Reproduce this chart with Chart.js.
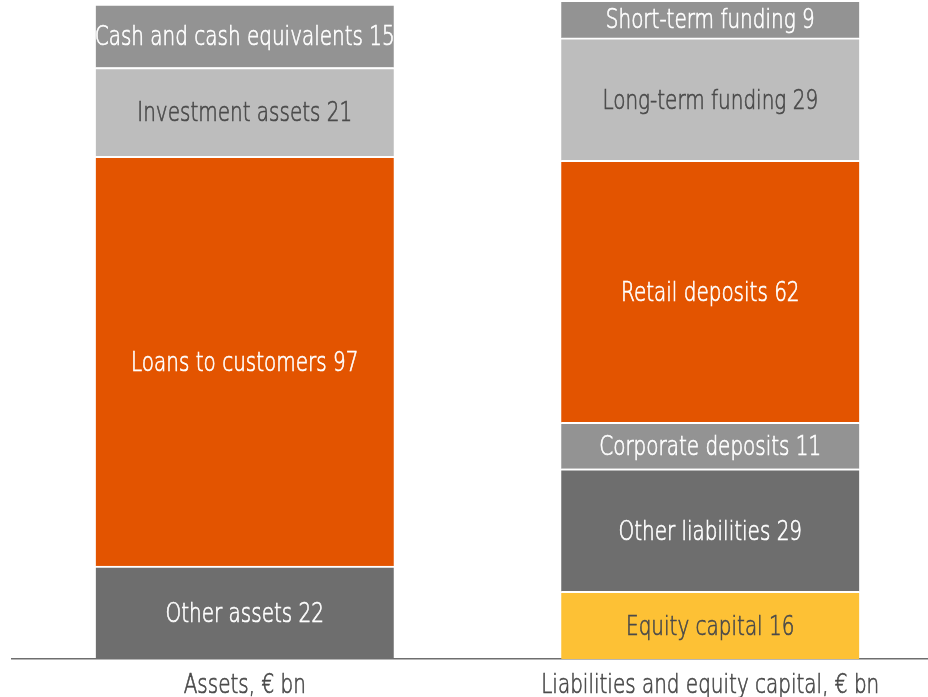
<!DOCTYPE html>
<html>
<head>
<meta charset="utf-8">
<script src="https://cdn.jsdelivr.net/npm/chart.js@4"></script>
<style>
  html, body { margin: 0; padding: 0; background: #ffffff; overflow: hidden; }
  #wrap { width: 928px; height: 697px; overflow: hidden; position: relative; }
  canvas { display: block; }
</style>
</head>
<body>
<div id="wrap"><canvas id="chart" width="943" height="697"></canvas></div>
<script>
// Balance sheet structure, € bn
const categories = ['Assets, € bn', 'Liabilities and equity capital, € bn'];

// Assets, stacked from the bottom up
const assetNames  = ['Other assets', 'Loans to customers', 'Investment assets', 'Cash and cash equivalents'];
const assetValues = [22, 97, 21, 15];

// Liabilities and equity capital, stacked from the bottom up
const liabilityNames  = ['Equity capital', 'Other liabilities', 'Corporate deposits', 'Retail deposits', 'Long-term funding', 'Short-term funding'];
const liabilityValues = [16, 29, 11, 62, 29, 9];

const assetColors     = ['#6e6e6e', '#e35400', '#bdbdbd', '#939393'];
const assetText       = ['#ffffff', '#ffffff', '#4a4a4a', '#ffffff'];
const liabilityColors = ['#fdc135', '#6e6e6e', '#939393', '#e35400', '#bdbdbd', '#939393'];
const liabilityText   = ['#4a4a4a', '#ffffff', '#ffffff', '#ffffff', '#4a4a4a', '#ffffff'];

const FONT = '200 27px "DejaVu Sans", sans-serif';
const SQUEEZE = 0.74;   // horizontal narrowing of the label face

function segment(name, value, idx, color, textColor) {
  const data = [null, null];
  data[idx] = value;
  return {
    label: name,
    data: data,
    backgroundColor: color,
    borderColor: '#ffffff',
    borderWidth: { top: 2, right: 0, bottom: 0, left: 0 },
    borderSkipped: false,
    barThickness: 298,
    stack: 'bs',
    textColor: textColor
  };
}

const datasets = [];
assetNames.forEach((n, i) => datasets.push(segment(n, assetValues[i], 0, assetColors[i], assetText[i])));
liabilityNames.forEach((n, i) => datasets.push(segment(n, liabilityValues[i], 1, liabilityColors[i], liabilityText[i])));

// Narrow, slightly thickened light text
function narrowText(ctx, text, x, y, color) {
  ctx.save();
  ctx.translate(x, y);
  ctx.scale(SQUEEZE, 1);
  ctx.fillStyle = color;
  ctx.strokeStyle = color;
  ctx.lineWidth = 0.7;
  ctx.fillText(text, 0, 0);
  ctx.strokeText(text, 0, 0);
  ctx.restore();
}

// Writes "name value" in the middle of each stacked segment, and the category names under the axis
const segmentLabels = {
  id: 'segmentLabels',
  afterDatasetsDraw(chart) {
    const ctx = chart.ctx;
    ctx.save();
    ctx.font = FONT;
    ctx.textAlign = 'center';
    ctx.textBaseline = 'alphabetic';
    chart.data.datasets.forEach((ds, di) => {
      const meta = chart.getDatasetMeta(di);
      meta.data.forEach((el, i) => {
        const v = ds.data[i];
        if (v === null || v === undefined) return;
        narrowText(ctx, ds.label + ' ' + v, el.x, (el.y + el.base) / 2 + 9.5, ds.textColor);
      });
    });
    const xs = chart.scales.x;
    chart.data.labels.forEach((lab, i) => {
      narrowText(ctx, lab, xs.getPixelForTick(i), xs.top + 33.5, '#4a4a4a');
    });
    ctx.restore();
  }
};

new Chart(document.getElementById('chart'), {
  type: 'bar',
  data: { labels: categories, datasets: datasets },
  options: {
    responsive: false,
    animation: false,
    layout: { padding: { left: 12, right: 0, top: 2, bottom: 0 } },
    plugins: { legend: { display: false }, tooltip: { enabled: false } },
    scales: {
      x: {
        stacked: true,
        grid: { display: false, drawTicks: false },
        border: { display: true, color: '#6e6e6e', width: 1.5 },
        ticks: { display: false },
        afterFit(scale) { scale.height = 38; }
      },
      y: {
        stacked: true,
        display: false,
        min: 0,
        max: 155.5
      }
    }
  },
  plugins: [segmentLabels]
});
</script>
</body>
</html>
